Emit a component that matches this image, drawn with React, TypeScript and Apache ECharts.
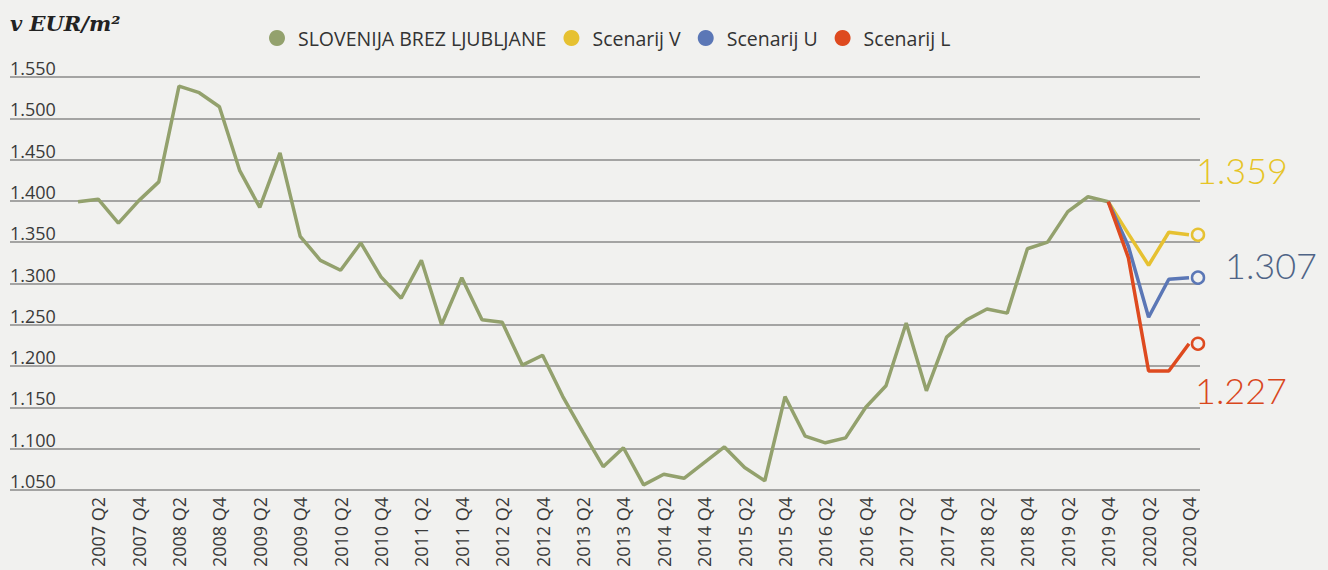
import { useEffect, useRef } from 'react';
import * as echarts from 'echarts';

const years = [2007, 2008, 2009, 2010, 2011, 2012, 2013, 2014, 2015, 2016, 2017, 2018, 2019, 2020];
const quarters = ['Q1', 'Q2', 'Q3', 'Q4'];
const categories = years.flatMap((y) => quarters.map((q) => `${y} ${q}`));

const seriesNames = ['SLOVENIJA BREZ LJUBLJANE', 'Scenarij V', 'Scenarij U', 'Scenarij L'];
const seriesColors = ['#93a16d', '#e6c131', '#5b77b6', '#de4a1f'];
const labelColors = ['#93a16d', '#e6c426', '#4f6486', '#d9471c'];

// 2007 Q1 .. 2019 Q4
const sloveniaValues = [
  1399, 1402, 1373, 1400,
  1423, 1539, 1531, 1514,
  1437, 1392, 1458, 1357,
  1328, 1316, 1349, 1308,
  1282, 1328, 1250, 1307,
  1256, 1253, 1201, 1213,
  1163, 1120, 1078, 1101,
  1056, 1069, 1064, 1083,
  1102, 1077, 1061, 1163,
  1115, 1107, 1113, 1150,
  1176, 1252, 1170, 1235,
  1256, 1269, 1264, 1342,
  1350, 1387, 1405, 1399,
];

// 2019 Q4 .. 2020 Q4
const scenarioV = [1399, 1360, 1322, 1362, 1359];
const scenarioU = [1399, 1345, 1259, 1305, 1307];
const scenarioL = [1399, 1331, 1194, 1194, 1227];
const scenarioStartIndex = 51;

const yMin = 1050;
const yMax = 1550;
const yStep = 50;

const fmt = (v: number) => (v / 1000).toFixed(3);

const BG = '#f1f1ef';

function scenarioData(values: number[], color: string) {
  const lead = new Array(scenarioStartIndex).fill(null);
  const pts = values.map((v, i) =>
    i === values.length - 1
      ? {
          value: v,
          symbol: 'circle',
          symbolSize: 12,
          symbolOffset: [9, 0],
          itemStyle: { color: BG, borderColor: color, borderWidth: 2.5 },
        }
      : v
  );
  return [...lead, ...pts];
}

export default function App() {
  const ref = useRef<HTMLDivElement>(null);
  useEffect(() => {
    if (!ref.current) return;
    const chart = echarts.init(ref.current, undefined, { renderer: 'svg' });
    const scen = [scenarioV, scenarioU, scenarioL];
    const ends = scen.map((s) => s[s.length - 1]);
    const endText = (k: number, x: number, y: number) => ({
      type: 'text',
      x,
      y,
      style: {
        text: fmt(ends[k]),
        fontFamily: 'Lato',
        fontWeight: 300,
        fontSize: 36,
        fill: labelColors[k + 1],
        verticalAlign: 'middle',
      },
    });
    chart.setOption({
      animation: false,
      backgroundColor: BG,
      textStyle: { fontFamily: 'Open Sans' },
      grid: [
        { left: 10, right: 128, top: 77, bottom: 80 },
        { left: 78, right: 139, top: 77, bottom: 80 },
      ],
      legend: {
        left: 264,
        top: 23,
        itemWidth: 16,
        itemHeight: 16,
        itemGap: 17,
        icon: 'circle',
        data: seriesNames,
        textStyle: { fontSize: 19.5, color: '#333', fontFamily: 'Open Sans', padding: [0, 0, 0, 8] },
      },
      xAxis: [
        { type: 'value', gridIndex: 0, show: false, min: 0, max: 1 },
        {
          type: 'category',
          gridIndex: 1,
          data: categories,
          boundaryGap: false,
          axisLine: { show: false },
          axisTick: { show: false },
          axisLabel: {
            interval: (i: number) => i % 2 === 1,
            rotate: 90,
            margin: 7,
            fontSize: 18,
            color: '#3a3a3a',
            fontFamily: 'Open Sans',
          },
        },
      ],
      yAxis: [
        {
          type: 'value',
          gridIndex: 0,
          min: yMin,
          max: yMax,
          interval: yStep,
          axisLine: { show: false },
          axisTick: { show: false },
          splitLine: { show: true, lineStyle: { color: '#8a8a8a', width: 1.5 } },
          axisLabel: {
            inside: true,
            margin: 0,
            verticalAlign: 'bottom',
            fontSize: 18,
            color: '#3a3a3a',
            fontFamily: 'Open Sans',
            formatter: (v: number) => fmt(v),
          },
        },
        {
          type: 'value',
          gridIndex: 1,
          min: yMin,
          max: yMax,
          interval: yStep,
          show: false,
          splitLine: { show: false },
        },
      ],
      series: [
        {
          name: seriesNames[0],
          type: 'line',
          xAxisIndex: 1,
          yAxisIndex: 1,
          data: sloveniaValues,
          symbol: 'none',
          lineStyle: { color: seriesColors[0], width: 3.5 },
          itemStyle: { color: seriesColors[0] },
          z: 3,
        },
        ...scen.map((s, k) => ({
          name: seriesNames[k + 1],
          type: 'line',
          xAxisIndex: 1,
          yAxisIndex: 1,
          data: scenarioData(s, seriesColors[k + 1]),
          symbol: 'none',
          lineStyle: { color: seriesColors[k + 1], width: 3.5 },
          itemStyle: { color: seriesColors[k + 1] },
          z: 4 + k,
        })),
      ],
      graphic: [
        {
          type: 'text',
          left: 10,
          top: 13,
          style: {
            text: 'v EUR/m²',
            fontFamily: 'DejaVu Serif',
            fontWeight: 'bold',
            fontStyle: 'italic',
            fontSize: 21,
            fill: '#222',
          },
        },
        endText(0, 1196, 170),
        endText(1, 1225, 265),
        endText(2, 1195, 390),
      ],
    });
    return () => chart.dispose();
  }, []);
  return (
    <div
      ref={ref}
      style={{ position: 'fixed', left: 0, top: 0, width: 1328, height: 570 }}
    />
  );
}
